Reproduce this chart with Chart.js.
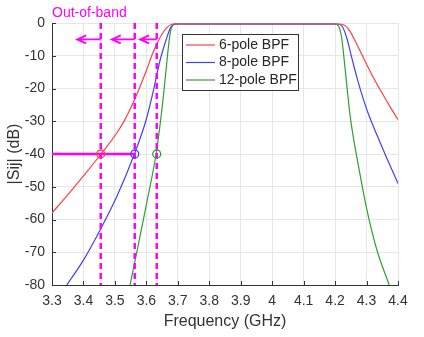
<!DOCTYPE html>
<html>
<head>
<meta charset="utf-8">
<script src="https://cdn.jsdelivr.net/npm/chart.js@4.4.0/dist/chart.umd.min.js"></script>
<style>
  html, body { margin: 0; padding: 0; background: #fff; }
</style>
</head>
<body>
<canvas id="chart" width="424" height="337"></canvas>
<script>
// data ===========================================================
var xTicks = [3.3, 3.4, 3.5, 3.6, 3.7, 3.8, 3.9, 4.0, 4.1, 4.2, 4.3, 4.4];
var yTicks = [0, -10, -20, -30, -40, -50, -60, -70, -80];

var pole6Freq = [3.3, 3.35, 3.4, 3.456, 3.506, 3.53, 3.56, 3.6, 3.622, 3.643, 3.665, 3.686, 3.8, 3.9, 4.0, 4.1, 4.215, 4.232, 4.247, 4.269, 4.29, 4.322, 4.353, 4.375, 4.4];
var pole6Db   = [-58, -52.5, -46.7, -40, -33.6, -29.8, -24, -14.5, -8.8, -4.5, -1.4, -0.3, -0.3, -0.3, -0.3, -0.3, -0.3, -0.8, -2.5, -6.5, -10.6, -16.7, -22, -25.6, -29.5];

var pole8Freq = [3.347, 3.4, 3.453, 3.506, 3.562, 3.598, 3.622, 3.643, 3.665, 3.677, 3.69, 3.8, 3.9, 4.0, 4.1, 4.205, 4.221, 4.237, 4.253, 4.269, 4.29, 4.306, 4.33, 4.36, 4.4];
var pole8Db   = [-80, -72.4, -63.2, -53, -40, -30, -20.8, -11.6, -4.5, -1.4, -0.3, -0.3, -0.3, -0.3, -0.3, -0.3, -0.8, -4.5, -10.6, -16.5, -23.3, -27.8, -33.5, -40.3, -49];

var pole12Freq = [3.548, 3.569, 3.601, 3.631, 3.643, 3.654, 3.665, 3.673, 3.68, 3.695, 3.8, 3.9, 4.0, 4.1, 4.198, 4.21, 4.221, 4.226, 4.237, 4.248, 4.26, 4.274, 4.3, 4.332, 4.372];
var pole12Db   = [-80, -70.3, -55, -40, -31.5, -22.5, -12, -5, -1.4, -0.3, -0.3, -0.3, -0.3, -0.3, -0.3, -0.8, -4.5, -8.6, -18.8, -28.5, -36, -43.5, -56.5, -69, -80];

var seriesNames = ['6-pole BPF', '8-pole BPF', '12-pole BPF'];
var seriesColors = ['#ff4040', '#4040ff', '#30a030'];

// out-of-band markers
var markerFreqs = [3.455, 3.563, 3.633];
var markerLevel = -40;
var arrowTips = [3.38, 3.49, 3.58];
var arrowLevel = -5;

function pts(xs, ys) {
    return xs.map(function (x, i) { return { x: x, y: ys[i] }; });
}

var FONT = '"Liberation Sans", Arial, sans-serif';
var MAGENTA = '#ff00ff';

var overlay = {
    id: 'overlay',
    afterDatasetsDraw: function (chart) {
        var ctx = chart.ctx, xs = chart.scales.x, ys = chart.scales.y;
        var area = chart.chartArea;

        // small inward tick marks, matlab style
        ctx.save();
        ctx.strokeStyle = '#333';
        ctx.lineWidth = 1;
        ctx.beginPath();
        xTicks.forEach(function (v) {
            var px = Math.round(xs.getPixelForValue(v)) + 0.5;
            ctx.moveTo(px, area.bottom);
            ctx.lineTo(px, area.bottom - 4);
        });
        yTicks.forEach(function (v) {
            var py = Math.round(ys.getPixelForValue(v)) + 0.5;
            ctx.moveTo(area.left, py);
            ctx.lineTo(area.left + 4, py);
        });
        ctx.stroke();
        ctx.restore();

        ctx.save();
        ctx.beginPath();
        ctx.rect(area.left, area.top - 2, area.right - area.left, area.bottom - area.top + 2);
        ctx.clip();

        // dashed verticals
        ctx.strokeStyle = MAGENTA;
        ctx.lineWidth = 2.5;
        ctx.setLineDash([6, 4]);
        markerFreqs.forEach(function (f) {
            var px = xs.getPixelForValue(f);
            ctx.beginPath();
            ctx.moveTo(px, area.top);
            ctx.lineTo(px, area.bottom);
            ctx.stroke();
        });
        ctx.setLineDash([]);

        // -40 dB level line
        var yl = ys.getPixelForValue(markerLevel);
        ctx.lineWidth = 2.5;
        ctx.beginPath();
        ctx.moveTo(area.left, yl);
        ctx.lineTo(xs.getPixelForValue(markerFreqs[1]), yl);
        ctx.stroke();

        // arrows pointing left
        var ya = ys.getPixelForValue(arrowLevel);
        ctx.lineWidth = 1.8;
        markerFreqs.forEach(function (f, i) {
            var x0 = xs.getPixelForValue(f), x1 = xs.getPixelForValue(arrowTips[i]);
            ctx.beginPath();
            ctx.moveTo(x0, ya);
            ctx.lineTo(x1, ya);
            ctx.moveTo(x1 + 9, ya - 4);
            ctx.lineTo(x1, ya);
            ctx.lineTo(x1 + 9, ya + 4);
            ctx.stroke();
        });

        // circles at -40 dB
        ctx.lineWidth = 1.3;
        markerFreqs.forEach(function (f, i) {
            ctx.strokeStyle = seriesColors[i];
            ctx.beginPath();
            ctx.arc(xs.getPixelForValue(f), yl, 4, 0, Math.PI * 2);
            ctx.stroke();
        });
        ctx.restore();

        // Out-of-band label
        ctx.save();
        ctx.fillStyle = MAGENTA;
        ctx.font = '14px ' + FONT;
        ctx.textBaseline = 'middle';
        ctx.fillText('Out-of-band', area.left, 13);
        ctx.restore();

        // legend box
        ctx.save();
        var lx = 182, ly = 34, lw = 116, lh = 56;
        ctx.fillStyle = '#fff';
        ctx.fillRect(lx, ly, lw, lh);
        ctx.strokeStyle = '#333';
        ctx.lineWidth = 1;
        ctx.strokeRect(lx + 0.5, ly + 0.5, lw, lh);
        ctx.font = '14px ' + FONT;
        ctx.textBaseline = 'middle';
        seriesNames.forEach(function (name, i) {
            var yy = ly + 11 + i * 17.5;
            ctx.strokeStyle = seriesColors[i];
            ctx.lineWidth = 1.2;
            ctx.beginPath();
            ctx.moveTo(lx + 4, yy);
            ctx.lineTo(lx + 33, yy);
            ctx.stroke();
            ctx.fillStyle = '#262626';
            ctx.fillText(name, lx + 37, yy);
        });
        ctx.restore();
    }
};

var datasets = [pole6Freq, pole8Freq, pole12Freq].map(function (fx, i) {
    var dy = [pole6Db, pole8Db, pole12Db][i];
    return {
        label: seriesNames[i],
        data: pts(fx, dy),
        borderColor: seriesColors[i],
        borderWidth: 1.2,
        pointRadius: 0,
        fill: false,
        cubicInterpolationMode: 'monotone'
    };
});

new Chart(document.getElementById('chart'), {
    type: 'line',
    data: { datasets: datasets },
    options: {
        responsive: false,
        animation: false,
        layout: { padding: { top: 23, right: 26, left: 0, bottom: 0 } },
        plugins: { legend: { display: false }, tooltip: { enabled: false } },
        scales: {
            x: {
                type: 'linear',
                min: 3.3,
                max: 4.4,
                afterBuildTicks: function (s) { s.ticks = xTicks.map(function (v) { return { value: v }; }); },
                afterFit: function (s) { s.height = 52; },
                grid: { color: '#e6e6e6', drawTicks: false },
                border: { color: '#333', width: 1 },
                ticks: {
                    padding: 8,
                    color: '#333',
                    font: { family: FONT, size: 14 },
                    maxRotation: 0,
                    autoSkip: false,
                    callback: function (v) { return String(+Number(v).toFixed(1)); }
                },
                title: {
                    display: true,
                    text: 'Frequency (GHz)',
                    color: '#333',
                    font: { family: FONT, size: 16 },
                    padding: { top: 0, bottom: 6 }
                }
            },
            y: {
                min: -80,
                max: 0,
                afterBuildTicks: function (s) { s.ticks = yTicks.map(function (v) { return { value: v }; }); },
                afterFit: function (s) { s.width = 52; },
                grid: { color: '#e6e6e6', drawTicks: false },
                border: { color: '#333', width: 1 },
                ticks: {
                    padding: 7,
                    color: '#333',
                    font: { family: FONT, size: 14 },
                    autoSkip: false
                },
                title: {
                    display: true,
                    text: '|Sij| (dB)',
                    color: '#333',
                    font: { family: FONT, size: 16 },
                    padding: { top: 5, bottom: 0 }
                }
            }
        }
    },
    plugins: [overlay]
});
</script>
</body>
</html>
